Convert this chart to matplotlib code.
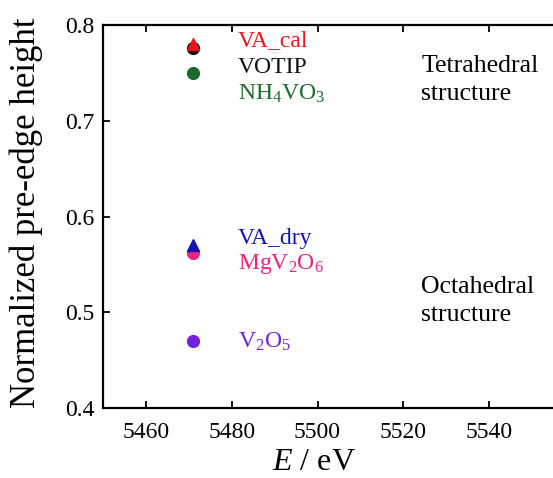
import matplotlib
matplotlib.use("Agg")
import matplotlib.pyplot as plt

plt.rcParams['font.family'] = ['Liberation Serif', 'DejaVu Serif']
plt.rcParams['mathtext.fontset'] = 'custom'
plt.rcParams['mathtext.rm'] = 'Liberation Serif'
plt.rcParams['mathtext.it'] = 'Liberation Serif:italic'

# samples: name, energy (eV), normalized pre-edge height
names = ['VA_cal', 'VOTIP', r'NH$_4$VO$_3$', 'VA_dry', r'MgV$_2$O$_6$', r'V$_2$O$_5$']
energy = [5471, 5471, 5471, 5471, 5471, 5471]
height = [0.780, 0.776, 0.750, 0.570, 0.562, 0.470]
markers = ['^', 'o', 'o', '^', 'o', 'o']
colors = ['#e8141c', '#111111', '#1b6b2c', '#1414b4', '#e82384', '#7322dc']
label_y = [0.784, 0.756, 0.728, 0.577, 0.550, 0.469]

fig = plt.figure(figsize=(5.53, 4.78), dpi=100)
ax = fig.add_axes([0.186, 0.1464, 0.854, 0.8013])

# draw circles first so triangles sit on top
order = [1, 2, 4, 5, 0, 3]
for i in order:
    ax.plot(energy[i], height[i], marker=markers[i], color=colors[i],
            markersize=8.5, linestyle='none')

for i in range(len(names)):
    ax.text(5481.5, label_y[i], names[i], color=colors[i], fontsize=17,
            va='center', ha='left')

ax.text(5524.2, 0.743, 'Tetrahedral\nstructure', fontsize=18.5, va='center',
        ha='left', linespacing=1.35)
ax.text(5524.2, 0.512, 'Octahedral\nstructure', fontsize=18.5, va='center',
        ha='left', linespacing=1.35)

ax.set_xlim(5450, 5560)
ax.set_ylim(0.4, 0.8)
ax.set_xticks([5460, 5480, 5500, 5520, 5540])
ax.set_yticks([0.4, 0.5, 0.6, 0.7, 0.8])
ax.tick_params(direction='in', length=5, width=1.3, labelsize=17,
               top=True, right=True)
ax.tick_params(axis='x', pad=10)
ax.tick_params(axis='y', pad=6)
for s in ax.spines.values():
    s.set_linewidth(1.6)

ax.set_xlabel(r'$E$ / eV', fontsize=23)
ax.set_ylabel('Normalized pre-edge height', fontsize=25)
ax.xaxis.set_label_coords(0.447, -0.105)
ax.yaxis.set_label_coords(-0.127, 0.51)

fig.savefig('out.png', dpi=100)
